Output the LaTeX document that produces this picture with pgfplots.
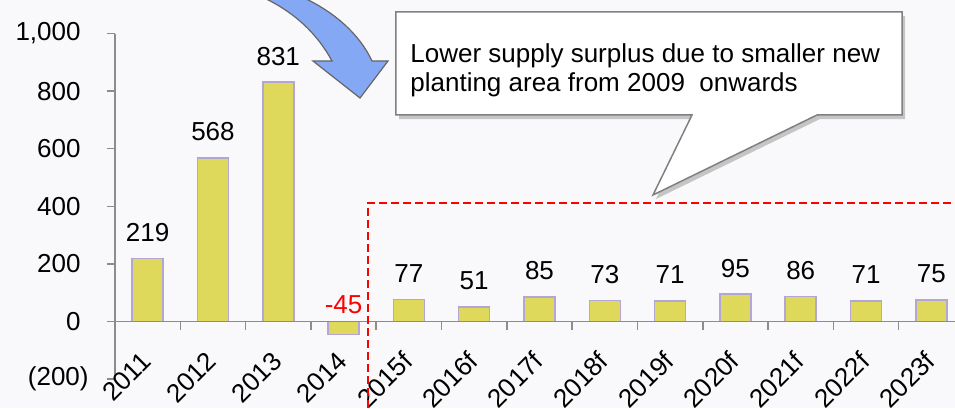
\documentclass[border=0pt]{standalone}
\usepackage{fontspec}
\setmainfont{Liberation Sans}
\usepackage{pgfplots}
\pgfplotsset{compat=1.18}
\usetikzlibrary{shadows}

\definecolor{barY}{HTML}{DED95A}
\definecolor{barL}{HTML}{B3A6D4}
\definecolor{arrowBlue}{HTML}{84A8F4}
\definecolor{bgcol}{HTML}{F9F9FB}
\definecolor{axgray}{HTML}{8C8C8C}

\begin{document}
\begin{tikzpicture}[
  px/.style={x=0.5pt,y=-0.5pt,shift={(-57.5pt,189.55pt)}},
  lbl/.style={font=\fontsize{13}{15.5}\selectfont}]
\path[use as bounding box] (-57.5pt,-14.45pt) rectangle (420pt,189.55pt);
\fill[bgcol] (-57.5pt,-14.45pt) rectangle (420pt,189.55pt);
\clip (-57.5pt,-14.45pt) rectangle (420pt,189.55pt);
\begin{axis}[
  at={(0pt,0pt)}, anchor=south west, scale only axis,
  width=424.5pt, height=172.8pt,
  xmin=-0.5, xmax=12.5, ymin=-200, ymax=1000,
  clip=false,
  separate axis lines,
  axis x line*=bottom, axis y line*=left,
  x axis line style={draw=none},
  y axis line style={-, draw=axgray, line width=0.75pt},
  xtick={0,...,12},
  xticklabels={2011,2012,2013,2014,2015f,2016f,2017f,2018f,2019f,2020f,2021f,2022f,2023f},
  xtick style={draw=none},
  xticklabel style={lbl, inner sep=0pt, xshift=-0.5pt, yshift=15.3pt, rotate=45, anchor=east},
  ytick={-200,0,200,400,600,800,1000},
  yticklabels={(200)\kern-4pt,0,200,400,600,800,{1,000}},
  ytick style={draw=axgray, line width=0.75pt},
  tick align=outside, major tick length=4pt,
  yticklabel style={lbl, inner sep=0pt, anchor=east, xshift=-13pt},
  /pgf/number format/assume math mode=true,
  ybar, bar width=15.5pt, bar shift=0pt,
  nodes near coords,
  every node near coord/.append style={lbl, anchor=center, yshift=13pt},
]
% actuals and forecasts of the supply surplus
\addplot[fill=barY, draw=barL, line width=0.75pt] coordinates {
  (0,219) (1,568) (2,831)
  (4,77) (5,51) (6,85) (7,73) (8,71) (9,95) (10,86) (11,71) (12,75)};
% the one deficit year, labelled in red
\addplot[fill=barY, draw=barL, line width=0.75pt,
  every node near coord/.append style={red, yshift=1.75pt}] coordinates {(3,-45)};
% zero line with category separators
\draw[axgray, line width=0.75pt] (axis cs:-0.5,0) -- (axis cs:12.5,0);
\pgfplotsinvokeforeach{0.5,1.5,...,12.5}{
  \draw[axgray, line width=0.75pt] (axis cs:#1,0) -- ++(0pt,-4pt);
}
\end{axis}
\begin{scope}[px]
  % curved block arrow
  \filldraw[fill=arrowBlue, draw=gray!80!black, line width=0.6pt]
    (262,-3) -- (302,-3) .. controls (335,12) and (360,35) .. (372,61)
    -- (388,61) -- (360,98) -- (313,61) -- (332,61)
    .. controls (318,35) and (295,12) .. (262,-3) -- cycle;
  % forecast period frame
  \draw[red, line width=1pt, dash pattern=on 4pt off 2pt]
    (368,420) -- (368,203) -- (970,203);
  % callout
  \filldraw[fill=white, draw=gray, line width=0.75pt,
    drop shadow={shadow xshift=1.5pt, shadow yshift=-2pt, opacity=0.35, fill=black!60}]
    (396,12) -- (902,12) -- (902,115) -- (817,115) -- (653,195)
    -- (692,115) -- (396,115) -- cycle;
  \node[lbl, anchor=base west, inner sep=0pt] at (410,63)
    {Lower supply surplus due to smaller new};
  \node[lbl, anchor=base west, inner sep=0pt] at (410,92)
    {planting area from 2009\ \ onwards};
\end{scope}
\end{tikzpicture}
\end{document}
